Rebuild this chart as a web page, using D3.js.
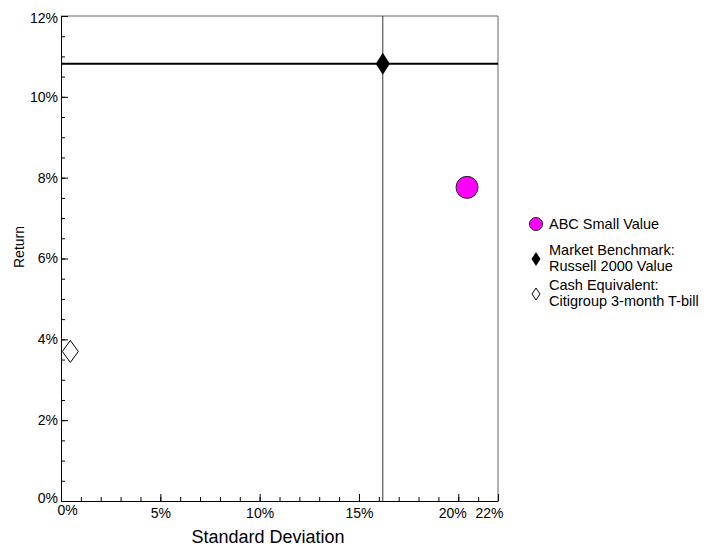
<!DOCTYPE html>
<html><head><meta charset="utf-8">
<script src="https://cdn.jsdelivr.net/npm/d3@7"></script>
<style>body{margin:0;background:#fff}svg{display:block;font-family:"Liberation Sans",Arial,sans-serif}</style>
</head><body><svg id="c" width="708" height="546"></svg>
<script>
const seriesNames = ["ABC Small Value", "Market Benchmark: Russell 2000 Value", "Cash Equivalent: Citigroup 3-month T-bill"];
const legendLines = [["ABC Small Value"], ["Market Benchmark:", "Russell 2000 Value"], ["Cash Equivalent:", "Citigroup 3-month T-bill"]];
const stdDev = [20.44, 16.2, 0.47];
const returns = [7.76, 10.82, 3.7];
const xTicks = [0, 5, 10, 15, 20, 22];
const yTicks = [0, 2, 4, 6, 8, 10, 12];
const benchmarkIndex = 1;

const svg = d3.select("#c");
const L = 61, R = 498, T = 16, B = 501;
const x = d3.scaleLinear().domain([0, 22]).range([L, R]);
const y = d3.scaleLinear().domain([0, 12]).range([B, T]);
const pct = d => d + "%";
const FONT = "Liberation Sans, Arial, sans-serif";

// frame (top/right)
svg.append("path").attr("d", `M${L},${T}H${R}V${B}`).attr("fill", "none").attr("stroke", "#666").attr("stroke-width", 1);

// benchmark crosshair
svg.append("line").attr("x1", x(stdDev[benchmarkIndex])).attr("x2", x(stdDev[benchmarkIndex]))
  .attr("y1", T).attr("y2", B).attr("stroke", "#333").attr("stroke-width", 1);
svg.append("line").attr("x1", L).attr("x2", R).attr("y1", y(returns[benchmarkIndex])).attr("y2", y(returns[benchmarkIndex]))
  .attr("stroke", "#000").attr("stroke-width", 2);

// minor ticks
svg.append("g").attr("transform", `translate(0,${B})`)
  .call(d3.axisBottom(x).tickValues(d3.range(0, 23, 1)).tickSize(-4).tickFormat(""))
  .call(g => g.select(".domain").remove())
  .selectAll("line").attr("stroke", "#000");
svg.append("g").attr("transform", `translate(${L},0)`)
  .call(d3.axisLeft(y).tickValues(d3.range(0, 12.01, 0.5)).tickSize(-4).tickFormat(""))
  .call(g => g.select(".domain").remove())
  .selectAll("line").attr("stroke", "#000");

// major axes
const xa = svg.append("g").attr("transform", `translate(0,${B})`)
  .call(d3.axisBottom(x).tickValues(xTicks).tickSize(-7).tickSizeOuter(0).tickPadding(7).tickFormat(pct));
xa.select(".domain").attr("stroke", "#000");
xa.selectAll("line").attr("stroke", "#000");
xa.selectAll("text").attr("font-size", 14).attr("font-family", FONT).attr("fill", "#000")
  .filter(d => d === 0).attr("x", 6).attr("y", 4);
xa.selectAll("text").filter(d => d === 22).attr("text-anchor", "end").attr("x", 5);
xa.selectAll("text").filter(d => d === 20).attr("x", -6);

const ya = svg.append("g").attr("transform", `translate(${L},0)`)
  .call(d3.axisLeft(y).tickValues(yTicks).tickSize(-7).tickSizeOuter(0).tickPadding(3).tickFormat(pct));
ya.select(".domain").attr("stroke", "#000");
ya.selectAll("line").attr("stroke", "#000");
ya.selectAll("text").attr("font-size", 14).attr("font-family", FONT).attr("fill", "#000");
ya.selectAll("text").filter(d => d === 0).attr("dy", "0.1em");
ya.selectAll("text").filter(d => d === 12).attr("dy", "0.45em");

// axis titles
svg.append("text").attr("x", 268).attr("y", 543).attr("text-anchor", "middle")
  .attr("font-size", 18).text("Standard Deviation");
svg.append("text").attr("transform", `translate(24,247)rotate(-90)`).attr("text-anchor", "middle")
  .attr("font-size", 14).text("Return");

// markers
const diamond = (hw, hh) => `M0,${-hh}L${hw},0L0,${hh}L${-hw},0Z`;
function marker(g, i, big) {
  if (i === 0) {
    g.append("circle").attr("r", big ? 11 : 6.5).attr("fill", "#FF00FF").attr("stroke", "#222").attr("stroke-width", 1);
  } else if (i === 1) {
    g.append("path").attr("d", big ? diamond(7, 11) : diamond(4.5, 7)).attr("fill", "#000");
  } else {
    g.append("path").attr("d", big ? diamond(8, 11) : diamond(4, 6)).attr("fill", "#fff").attr("stroke", "#000").attr("stroke-width", 1);
  }
}
seriesNames.forEach((n, i) => {
  const g = svg.append("g").attr("transform", `translate(${x(stdDev[i])},${y(returns[i])})`);
  marker(g, i, true);
});

// legend
const legY = [224, 259, 294];
const legTextY = [[229], [255, 271], [290, 306]];
seriesNames.forEach((n, i) => {
  const g = svg.append("g").attr("transform", `translate(536,${legY[i]})`);
  marker(g, i, false);
  legendLines[i].forEach((t, j) => {
    svg.append("text").attr("x", 549).attr("y", legTextY[i][j]).attr("font-size", 14.5)
      .attr("textLength", null).text(t);
  });
});
</script></body></html>
